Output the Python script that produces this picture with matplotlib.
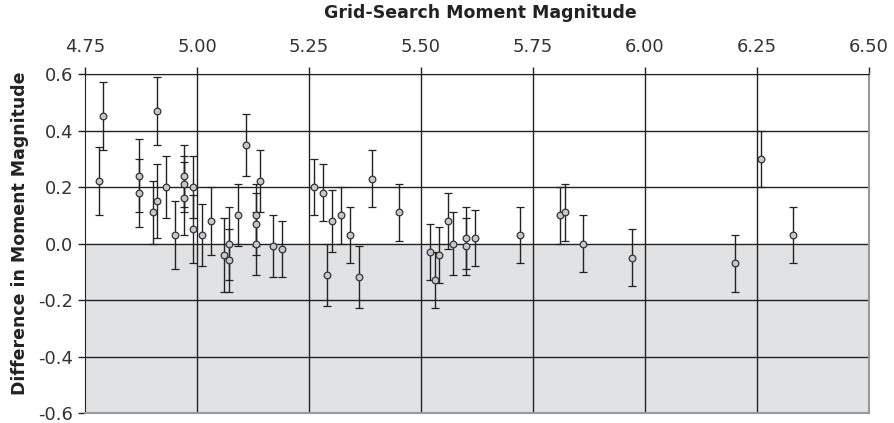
import matplotlib
matplotlib.use('Agg')
import matplotlib.pyplot as plt

plt.rcParams['font.family'] = 'DejaVu Sans'

# grid-search magnitude, difference, error
mw_grid = [4.781, 4.791, 4.871, 4.871, 4.901, 4.911, 4.911, 4.931, 4.951,
           4.971, 4.971, 4.971, 4.991, 4.991, 5.011, 5.031, 5.061, 5.071,
           5.071, 5.091, 5.110, 5.131, 5.131, 5.131, 5.141, 5.170, 5.190,
           5.261, 5.281, 5.291, 5.301, 5.321, 5.341, 5.361, 5.391, 5.451,
           5.521, 5.531, 5.541, 5.561, 5.571, 5.601, 5.601, 5.621, 5.720,
           5.810, 5.821, 5.861, 5.970, 6.201, 6.260, 6.330]
mw_diff = [0.22, 0.45, 0.24, 0.18, 0.11, 0.47, 0.15, 0.20, 0.03,
           0.24, 0.21, 0.16, 0.20, 0.05, 0.03, 0.08, -0.04, 0.00,
           -0.06, 0.10, 0.35, 0.10, 0.07, 0.00, 0.22, -0.01, -0.02,
           0.20, 0.18, -0.11, 0.08, 0.10, 0.03, -0.12, 0.23, 0.11,
           -0.03, -0.13, -0.04, 0.08, 0.00, 0.02, -0.01, 0.02, 0.03,
           0.10, 0.11, 0.00, -0.05, -0.07, 0.30, 0.03]
mw_err = [0.12, 0.12, 0.13, 0.12, 0.11, 0.12, 0.13, 0.11, 0.12,
          0.11, 0.10, 0.13, 0.11, 0.12, 0.11, 0.12, 0.13, 0.13,
          0.11, 0.11, 0.11, 0.11, 0.11, 0.11, 0.11, 0.11, 0.10,
          0.10, 0.10, 0.11, 0.11, 0.10, 0.10, 0.11, 0.10, 0.10,
          0.10, 0.10, 0.10, 0.10, 0.11, 0.11, 0.10, 0.10, 0.10,
          0.10, 0.10, 0.10, 0.10, 0.10, 0.10, 0.10]

xticks = [4.75, 5.00, 5.25, 5.50, 5.75, 6.00, 6.25, 6.50]
yticks = [-0.6, -0.4, -0.2, 0.0, 0.2, 0.4, 0.6]

fig = plt.figure(figsize=(8.94, 4.23), dpi=100)
ax = fig.add_axes([0.0951, 0.0236, 0.972 - 0.0951, 0.825 - 0.0236])

ax.axhspan(-0.6, 0.0, color='#e1e2e4', zorder=0)
for x in xticks[1:-1]:
    ax.axvline(x, color='#222222', lw=1.0, zorder=1)
for y in yticks[1:]:
    ax.axhline(y, color='#222222', lw=1.0, zorder=1)

ax.errorbar(mw_grid, mw_diff, yerr=mw_err, fmt='o', color='#222222',
            ecolor='#222222', elinewidth=1.0, capsize=2.6, capthick=1.0,
            markersize=4.8, markerfacecolor='#c5c8cc', markeredgecolor='#333333',
            markeredgewidth=0.9, zorder=3)

ax.set_xlim(4.75, 6.50)
ax.set_ylim(-0.6, 0.6)
ax.set_xticks(xticks)
ax.set_xticklabels(['%.2f' % v for v in xticks])
ax.set_yticks(yticks)
ax.set_yticklabels(['%.1f' % v for v in yticks])
ax.xaxis.tick_top()
ax.tick_params(axis='both', labelsize=13, colors='#222222', labelcolor='#333333',
               length=5, width=1.0)
ax.tick_params(axis='x', pad=8)

fig.text(480 / 894, 1 - 13 / 423, 'Grid-Search Moment Magnitude', fontsize=12.5,
         fontweight='bold', color='#222222', ha='center', va='center')
fig.text(20 / 894, 1 - 233.5 / 423, 'Difference in Moment Magnitude', fontsize=12.5,
         fontweight='bold', color='#222222', ha='center', va='center', rotation=90)

ax.spines['left'].set_color('#222222')
ax.spines['top'].set_color('#222222')
ax.spines['right'].set_color('#999999')
ax.spines['bottom'].set_color('#999999')
ax.spines['right'].set_linewidth(1.5)
ax.spines['bottom'].set_linewidth(1.5)

fig.savefig('out.png', dpi=100)
